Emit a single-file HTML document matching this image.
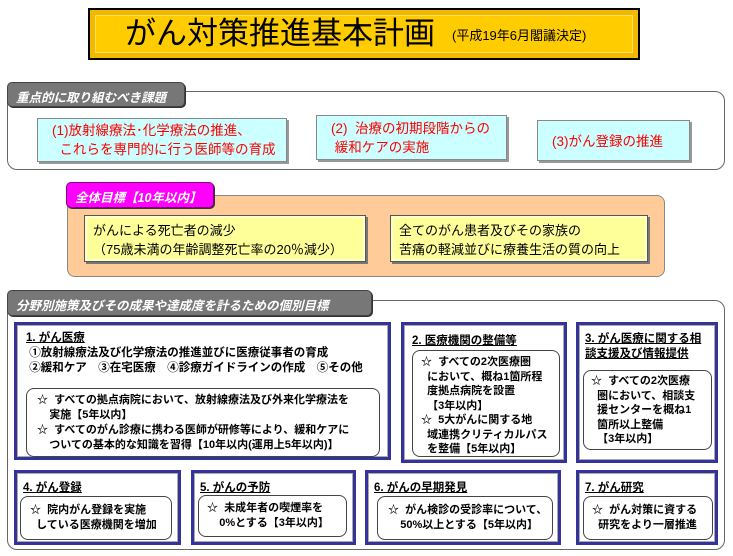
<!DOCTYPE html>
<html><head><meta charset="utf-8"><style>
*{margin:0;padding:0;box-sizing:border-box}
body{width:733px;height:556px;background:#fff;position:relative;overflow:hidden;font-family:"Liberation Sans","Noto Sans CJK JP",sans-serif;font-weight:bold;color:#000}
.a{position:absolute;white-space:nowrap}
.title{left:88px;top:8px;width:552px;height:52px;background:#ffcc00;border:2px solid #000;box-shadow:inset 0 0 0 5px #f2b900,inset 0 0 0 6px #ffe066}
.sec{border:1.5px solid #666;border-radius:10px;background:#fff}
.tab{background:#777;color:#fff;font-style:italic;font-size:12.5px;border-radius:5px;padding:4px 8px;border:1px solid #444;box-shadow:1px 1px 0 #333}
.scroll{background:#ccffff;border:1px solid #888;color:#f00;font-size:13.5px;font-weight:normal;line-height:19px;box-shadow:2px 2px 0 #999}
.yel{background:#ffff99;border:1px solid #555;box-shadow:2px 2px 0 #777,inset 0 0 0 2px #ffffcc;font-size:13px;font-weight:normal;line-height:19px;padding:5px 8px}
.blue{border:3px solid #333399;background:#fff;box-shadow:inset 0 0 0 1px #aaa}
.h{font-size:11.5px;text-decoration:underline;font-weight:bold}
.in{border:1px solid #444;border-radius:8px;background:#fff;font-size:11px;line-height:15px}
</style></head><body>
<div class="a title"></div>
<div class="a" style="left:125px;top:13px;font-size:31px;font-weight:normal;line-height:42px">がん対策推進基本計画</div>
<div class="a" style="left:452px;top:25px;font-size:13px;font-weight:normal">(平成19年6月閣議決定)</div>

<div class="a sec" style="left:7px;top:91px;width:718px;height:79px"></div>
<div class="a tab" style="left:7px;top:82px;width:178px;height:25px">重点的に取り組むべき課題</div>
<div class="a scroll" style="left:37px;top:118px;width:250px;height:44px;padding:2px 0 0 14px">(1)放射線療法･化学療法の推進、<br>&nbsp;&nbsp;これらを専門的に行う医師等の育成</div>
<div class="a scroll" style="left:316px;top:115px;width:191px;height:45px;padding:3px 0 0 14px">(2)&nbsp; 治療の初期段階からの<br>&nbsp;緩和ケアの実施</div>
<div class="a scroll" style="left:537px;top:120px;width:153px;height:41px;padding:11px 0 0 14px">(3)がん登録の推進</div>

<div class="a" style="left:67px;top:195px;width:598px;height:82px;background:#ffcc99;border:1.5px solid #888;border-radius:8px"></div>
<div class="a tab" style="left:66px;top:182px;width:148px;height:26px;background:#ff00ff;border-color:#880088">全体目標【10年以内】</div>
<div class="a yel" style="left:84px;top:215px;width:282px;height:47px">がんによる死亡者の減少<br>（75歳未満の年齢調整死亡率の20％減少）</div>
<div class="a yel" style="left:390px;top:215px;width:258px;height:47px">全てのがん患者及びその家族の<br>苦痛の軽減並びに療養生活の質の向上</div>

<div class="a sec" style="left:7px;top:300px;width:718px;height:250px"></div>
<div class="a tab" style="left:7px;top:290px;width:365px;height:26px">分野別施策及びその成果や達成度を計るための個別目標</div>

<div class="a blue" style="left:14px;top:322px;width:377px;height:138px"></div>
<div class="a" style="left:26px;top:331px;font-size:11.5px;line-height:15px"><span class="h">1. がん医療</span><br>&nbsp;①放射線療法及び化学療法の推進並びに医療従事者の育成<br>&nbsp;②緩和ケア　③在宅医療　④診療ガイドラインの作成　⑤その他</div>
<div class="a in" style="left:26px;top:388px;width:354px;height:69px;padding:4px 0 0 10px">☆&nbsp; すべての拠点病院において、放射線療法及び外来化学療法を<br>&nbsp;&nbsp;&nbsp;&nbsp;実施【5年以内】<br>☆&nbsp; すべてのがん診療に携わる医師が研修等により、緩和ケアに<br>&nbsp;&nbsp;&nbsp;&nbsp;ついての基本的な知識を習得【10年以内(運用上5年以内)】</div>

<div class="a blue" style="left:401px;top:322px;width:166px;height:141px"></div>
<div class="a h" style="left:412px;top:332px">2. 医療機関の整備等</div>
<div class="a in" style="left:412px;top:350px;width:148px;height:107px;padding:4px 0 0 8px;line-height:14.5px">☆&nbsp; すべての2次医療圏<br>&nbsp;&nbsp;において、概ね1箇所程<br>&nbsp;&nbsp;度拠点病院を設置<br>&nbsp;&nbsp;【3年以内】<br>☆&nbsp; 5大がんに関する地<br>&nbsp;&nbsp;域連携クリティカルパス<br>&nbsp;&nbsp;を整備【5年以内】</div>

<div class="a blue" style="left:576px;top:322px;width:142px;height:141px"></div>
<div class="a h" style="left:585px;top:332px;line-height:15px">3. がん医療に関する相<br>談支援及び情報提供</div>
<div class="a in" style="left:583px;top:370px;width:129px;height:80px;padding:3px 0 0 7px;line-height:14.5px">☆&nbsp; すべての2次医療<br>&nbsp;&nbsp;圏において、相談支<br>&nbsp;&nbsp;援センターを概ね1<br>&nbsp;&nbsp;箇所以上整備<br>&nbsp;&nbsp;【3年以内】</div>

<div class="a blue" style="left:14px;top:470px;width:167px;height:75px"></div>
<div class="a h" style="left:23px;top:479px">4. がん登録</div>
<div class="a in" style="left:20px;top:496px;width:152px;height:44px;padding:6px 0 0 9px">☆&nbsp; 院内がん登録を実施<br>&nbsp;&nbsp;している医療機関を増加</div>
<div class="a blue" style="left:191px;top:470px;width:165px;height:75px"></div>
<div class="a h" style="left:200px;top:479px">5. がんの予防</div>
<div class="a in" style="left:198px;top:495px;width:149px;height:42px;padding:5px 0 0 8px">☆&nbsp; 未成年者の喫煙率を<br>&nbsp;&nbsp;&nbsp;&nbsp;0%とする【3年以内】</div>
<div class="a blue" style="left:365px;top:470px;width:196px;height:75px"></div>
<div class="a h" style="left:374px;top:479px">6. がんの早期発見</div>
<div class="a in" style="left:377px;top:496px;width:176px;height:44px;padding:6px 0 0 10px">☆&nbsp; がん検診の受診率について、<br>&nbsp;&nbsp;&nbsp;&nbsp;50%以上とする【5年以内】</div>
<div class="a blue" style="left:576px;top:470px;width:142px;height:75px"></div>
<div class="a h" style="left:585px;top:479px">7. がん研究</div>
<div class="a in" style="left:583px;top:496px;width:130px;height:44px;padding:6px 0 0 8px">☆&nbsp; がん対策に資する<br>&nbsp;&nbsp;研究をより一層推進</div>
</body></html>
